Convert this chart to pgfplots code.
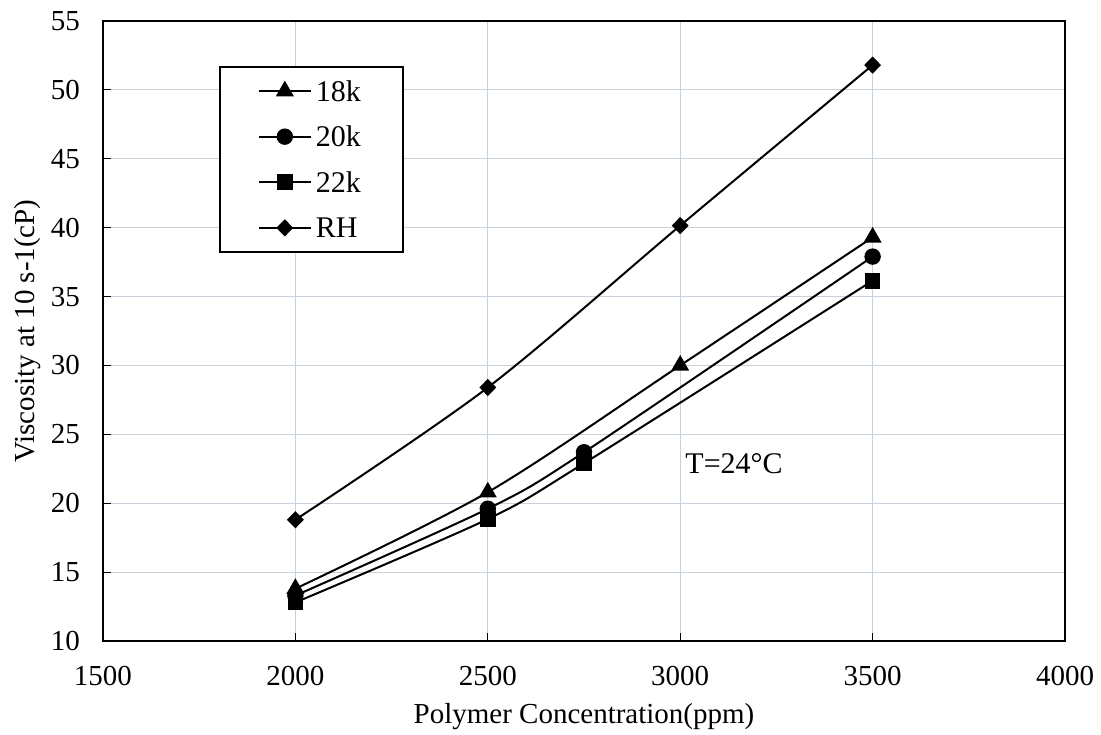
\documentclass[border=0pt]{standalone}
\usepackage{fontspec}
\setmainfont{Liberation Serif}
\usepackage{pgfplots}
\pgfplotsset{compat=1.18}
\definecolor{gridc}{RGB}{200,210,220}
\begin{document}
\begin{tikzpicture}
\begin{axis}[
  name=ax,
  at={(0,0)}, anchor=south west,
  width=481pt, height=310pt, scale only axis,
  xmin=1500, xmax=4000, ymin=10, ymax=55,
  xtick={1500,2000,...,4000}, ytick={10,15,...,55},
  xtick pos=lower, ytick pos=left,
  axis line style={line width=1.3pt},
  tick align=inside, tick style={black, line width=0.6pt},
  major tick length=4pt,
  grid=major, grid style={gridc, line width=0.6pt},
  /pgf/number format/assume math mode=true,
  /pgf/number format/set thousands separator={},
  xticklabel style={font=\fontsize{14.5}{16}\selectfont, yshift=-9pt},
  yticklabel style={font=\fontsize{14.5}{16}\selectfont, xshift=-8pt},
  xlabel={Polymer Concentration(ppm)},
  ylabel={Viscosity at 10 s-1(cP)},
  xlabel style={font=\fontsize{14.5}{16}\selectfont, at={(axis description cs:0.5,-0.122)}, anchor=center},
  ylabel style={font=\fontsize{14.5}{16}\selectfont, at={(axis description cs:-0.078,0.5)}, anchor=center},
  legend style={at={(0.1206,0.927)}, anchor=north west, draw=black, line width=0.8pt, fill=white,
    font=\fontsize{15}{17}\selectfont, row sep=8.8pt, inner xsep=19pt, inner ysep=5pt,
    nodes={inner sep=2pt, text height=10pt, text depth=0pt}},
  legend cell align=left,
  legend image code/.code={\draw[mark repeat=2,mark phase=2] plot coordinates {(0pt,0pt) (13pt,0pt) (26pt,0pt)};},
]
\addplot[black, line width=1pt, smooth, mark=triangle*, mark size=4.2pt] coordinates {
(2000,13.8) (2500,20.8) (3000,30.0) (3500,39.3)};
\addlegendentry{18k}
\addplot[black, line width=1pt, smooth, mark=*, mark size=3.6pt] coordinates {
(2000,13.3) (2500,19.6) (2750,23.7) (3500,37.9)};
\addlegendentry{20k}
\addplot[black, line width=1pt, smooth, mark=square*, mark size=3.4pt] coordinates {
(2000,12.8) (2500,18.85) (2750,22.9) (3500,36.15)};
\addlegendentry{22k}
\addplot[black, line width=1pt, smooth, mark=diamond*, mark size=3.6pt, mark options={xscale=1.3}] coordinates {
(2000,18.8) (2500,28.4) (3000,40.15) (3500,51.8)};
\addlegendentry{RH}
\node[font=\fontsize{15}{17}\selectfont] at (axis cs:3140,22.9) {T=24°C};
\end{axis}
\pgfresetboundingbox
\path (-51.5pt,-46.5pt) rectangle (499pt,320.5pt);
\end{tikzpicture}
\end{document}
